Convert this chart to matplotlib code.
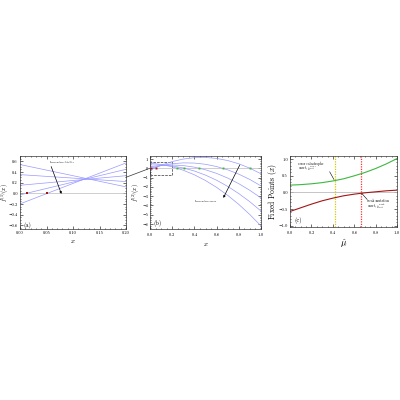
import numpy as np
import matplotlib
matplotlib.use('Agg')
import matplotlib.pyplot as plt
from matplotlib.patches import Rectangle, ConnectionPatch

plt.rcParams['font.family'] = ['cmr10', 'DejaVu Serif']
plt.rcParams['mathtext.fontset'] = 'cm'
plt.rcParams['axes.formatter.use_mathtext'] = True
plt.rcParams['axes.unicode_minus'] = False

# panel (a): linear approximations, value at x=0 and at x=0.2
a_x = [0.0, 0.2]
a_left = [0.54, 0.35, 0.15, -0.03, -0.2]
a_right = [0.12, 0.22, 0.33, 0.45, 0.57]
a_fixed = [0.0126, 0.05]

# panel (b): second order curves sampled at x = 0, 0.1, ... 1.0
b_x = [0.0, 0.1, 0.2, 0.3, 0.4, 0.5, 0.6, 0.7, 0.8, 0.9, 1.0]
b_curve1 = [0.54, 0.409, 0.157, -0.216, -0.709, -1.323, -2.057, -2.912, -3.887, -4.983, -6.2]
b_curve2 = [0.35, 0.354, 0.246, 0.028, -0.30, -0.74, -1.29, -1.952, -2.724, -3.606, -4.6]
b_curve3 = [0.15, 0.304, 0.349, 0.285, 0.113, -0.168, -0.557, -1.055, -1.661, -2.376, -3.2]
b_curve4 = [-0.03, 0.283, 0.484, 0.575, 0.554, 0.423, 0.18, -0.174, -0.638, -1.214, -1.9]
b_curve5 = [-0.2, 0.32, 0.715, 0.986, 1.133, 1.155, 1.053, 0.826, 0.475, 0.0, -0.6]
b_fixed_red = [0.0126, 0.05]
b_fixed_green = [0.246, 0.31, 0.445, 0.655, 0.9]

# panel (c): fixed points vs mu
mu = [0.0, 0.1, 0.2, 0.3, 0.4, 0.5, 0.6, 0.7, 0.8, 0.9, 1.0]
fp_upper = [0.22, 0.235, 0.26, 0.295, 0.345, 0.41, 0.5, 0.6, 0.72, 0.86, 1.02]
fp_lower = [-0.57, -0.46, -0.35, -0.25, -0.17, -0.10, -0.05, -0.01, 0.02, 0.05, 0.07]
mu_error = 0.42
mu_weak = 0.665

blue = (0.6, 0.6, 1.0)
dred = '#a31515'
grn = '#3db83d'
fs_tick = 3.2
fs_lab = 4.3


def style(ax):
    ax.minorticks_on()
    ax.tick_params(which='both', direction='in', top=True, right=True, labelsize=fs_tick, pad=1.5, width=0.4)
    ax.tick_params(which='major', length=2)
    ax.tick_params(which='minor', length=1)
    for s in ax.spines.values():
        s.set_linewidth(0.5)
        s.set_color('#333333')


fig = plt.figure(figsize=(4, 4), dpi=100)
ax1 = fig.add_axes([0.05, 0.427, 0.265, 0.183])
ax2 = fig.add_axes([0.375, 0.427, 0.2775, 0.182])
ax3 = fig.add_axes([0.725, 0.433, 0.268, 0.1775])

# (a)
ax1.axhline(0, color='#bbbbbb', lw=0.5)
for l, r in zip(a_left, a_right):
    ax1.plot(a_x, [l, r], color=blue, lw=0.5)
ax1.plot(a_fixed, [0, 0], 's', color=dred, ms=1.6, mew=0)
ax1.annotate('', xy=(0.08, -0.06), xytext=(0.057, 0.55),
             arrowprops=dict(arrowstyle='-|>', color='black', lw=0.5, mutation_scale=3))
ax1.text(0.057, 0.57, 'Increasing fidelity', fontsize=2.2)
ax1.text(0.006, -0.6, '(a)', fontsize=4.5, va='center')
ax1.set_xlim(0, 0.2)
ax1.set_ylim(-0.675, 0.7)
ax1.set_xticks([0.0, 0.05, 0.1, 0.15, 0.2])
ax1.set_xticklabels(['0.00', '0.05', '0.10', '0.15', '0.20'])
ax1.set_yticks([-0.6, -0.4, -0.2, 0.0, 0.2, 0.4, 0.6])
ax1.set_yticklabels(['−0.6', '−0.4', '−0.2', '0.0', '0.2', '0.4', '0.6'])
ax1.set_xlabel('$x$', fontsize=5, labelpad=2)
ax1.set_ylabel('$f^{(1)}(x)$', fontsize=fs_lab)
ax1.yaxis.set_label_coords(-0.085, 0.5)
style(ax1)

# (b)
ax2.axhline(0, color='#bbbbbb', lw=0.5)
for c in [b_curve1, b_curve2, b_curve3, b_curve4, b_curve5]:
    ax2.plot(b_x, c, color=blue, lw=0.5)
ax2.plot(b_fixed_red, [0, 0], 's', color=dred, ms=1.4, mew=0)
ax2.plot(b_fixed_green, [0] * len(b_fixed_green), 's', color=grn, ms=1.4, mew=0)
ax2.add_patch(Rectangle((0, -0.7), 0.2, 1.4, fill=False, ls='--', lw=0.5, ec='#333333'))
ax2.annotate('', xy=(0.65, -3.45), xytext=(0.82, 0.62),
             arrowprops=dict(arrowstyle='-|>', color='black', lw=0.5, mutation_scale=3))
ax2.text(0.6, -3.5, 'Increasing error', fontsize=2.2, ha='right', va='center')
ax2.text(0.03, -5.9, '(b)', fontsize=4.5, va='center')
ax2.set_xlim(0, 1)
ax2.set_ylim(-6.55, 1.27)
ax2.set_xticks([0.0, 0.2, 0.4, 0.6, 0.8, 1.0])
ax2.set_yticks([-6, -5, -4, -3, -2, -1, 0, 1])
ax2.set_yticklabels(['−6', '−5', '−4', '−3', '−2', '−1', '0', '1'])
ax2.set_xlabel('$x$', fontsize=5, labelpad=2)
ax2.set_ylabel('$f^{(2)}(x)$', fontsize=fs_lab)
ax2.yaxis.set_label_coords(-0.07, 0.5)
style(ax2)

con = ConnectionPatch(xyA=(0.2, 0.3), coordsA=ax1.transData, xyB=(0.0, 0.0), coordsB=ax2.transData,
                      color='#333333', lw=0.5)
fig.add_artist(con)

# (c)
ax3.axhline(0, color='#bbbbbb', lw=0.6)
ax3.axvline(mu_error, color='#d8c800', lw=0.9, ls=(0, (1, 1)))
ax3.axvline(mu_weak, color='#ff3030', lw=0.9, ls=(0, (1, 1)))
ax3.plot(mu, fp_upper, color=grn, lw=0.8)
ax3.plot(mu, fp_lower, color=dred, lw=0.8)
ax3.plot([0.37, 0.41], [0.62, 0.39], color='black', lw=0.4)
ax3.text(0.07, 0.85, 'error catastrophe', fontsize=2.4, va='center')
ax3.text(0.07, 0.69, r'onset, $\hat{\mu}^{error}_{crit}$', fontsize=2.4, va='center')
ax3.plot([0.67, 0.72], [-0.03, -0.21], color='black', lw=0.4)
ax3.text(0.72, -0.25, 'weak mutation', fontsize=2.4, va='center')
ax3.text(0.72, -0.41, r'onset, $\hat{\mu}^{weak}_{crit}$', fontsize=2.4, va='center')
ax3.text(0.04, -0.85, '(c)', fontsize=4.5, va='center')
ax3.set_xlim(0, 1)
ax3.set_ylim(-1.03, 1.1)
ax3.set_xticks([0.0, 0.2, 0.4, 0.6, 0.8, 1.0])
ax3.set_yticks([-1.0, -0.5, 0.0, 0.5, 1.0])
ax3.set_yticklabels(['−1.0', '−0.5', '0.0', '0.5', '1.0'])
ax3.set_xlabel(r'$\hat{\mu}$', fontsize=6.5, labelpad=1)
ax3.set_ylabel('Fixed Points $(x)$', fontsize=5.5)
ax3.yaxis.set_label_coords(-0.1, 0.5)
style(ax3)

fig.savefig('out.png', dpi=100)
